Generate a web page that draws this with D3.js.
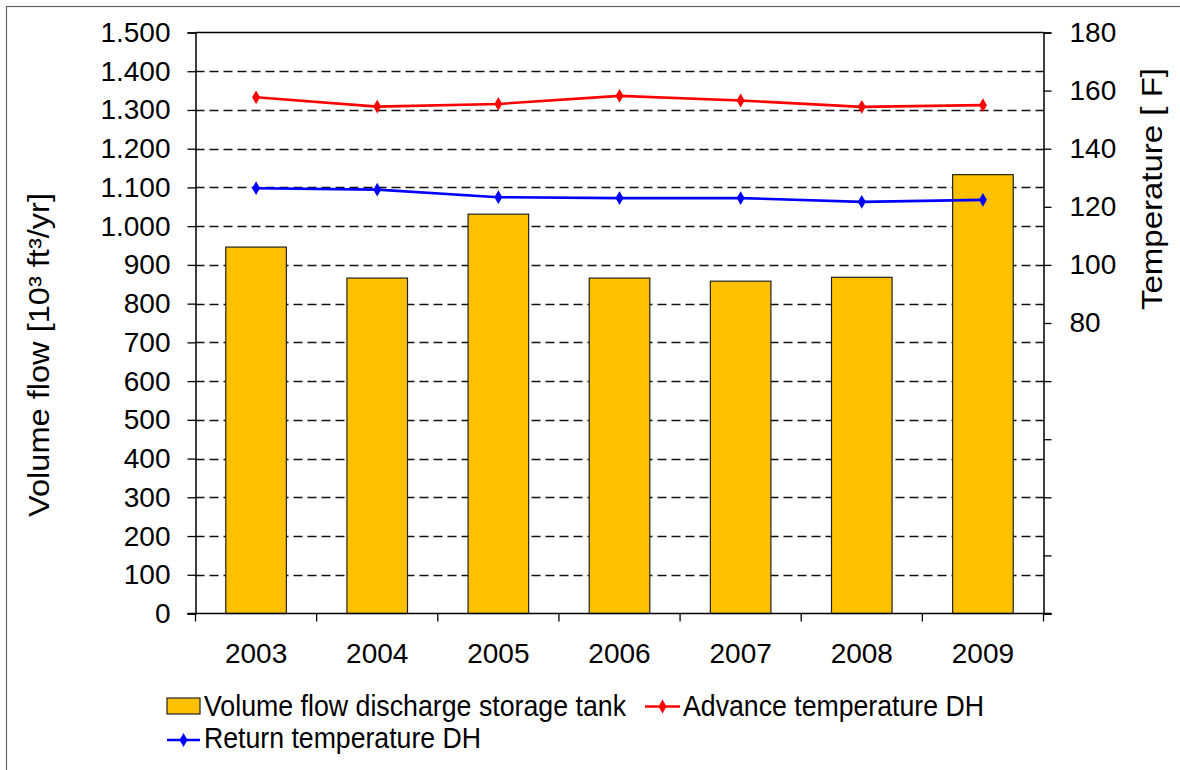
<!DOCTYPE html>
<html>
<head>
<meta charset="utf-8">
<script src="https://cdn.jsdelivr.net/npm/d3@7"></script>
<style>
  html, body { margin: 0; padding: 0; background: #fff; }
  svg { display: block; font-family: "Liberation Sans", Arial, sans-serif; }
</style>
</head>
<body>
<svg id="chart" width="1180" height="770"></svg>
<script>
// ---- data ----
const years = ["2003", "2004", "2005", "2006", "2007", "2008", "2009"];
const volumeFlow = [946, 866, 1031, 866, 858, 868, 1133];
const advanceTemp = [157.7, 154.5, 155.4, 158.2, 156.6, 154.4, 155.0];
const returnTemp = [126.4, 125.9, 123.3, 123.0, 123.0, 121.7, 122.4];
const leftTicks = [0,100,200,300,400,500,600,700,800,900,1000,1100,1200,1300,1400,1500];
const rightTicks = [-20,0,20,40,60,80,100,120,140,160,180];
const rightLabelTicks = [80,100,120,140,160,180];
const seriesNames = ["Volume flow discharge storage tank", "Advance temperature DH", "Return temperature DH"];

// ---- layout ----
const L = 195.5, R = 1043.5, T = 32.5, B = 613.5;
const svg = d3.select("#chart");
const fontTick = 28;

const x = d3.scaleBand().domain(years).range([L, R]).paddingInner(0.5).paddingOuter(0.25);
const yL = d3.scaleLinear().domain([0, 1500]).range([B, T]);
const yR = d3.scaleLinear().domain([-20, 180]).range([B, T]);

const de = d3.formatLocale({decimal: ",", thousands: ".", grouping: [3], currency: ["", "€"]});
const fmtL = de.format(",");

// outer border
svg.append("rect").attr("x", 6.5).attr("y", 6.5).attr("width", 1200).attr("height", 800)
  .attr("fill", "none").attr("stroke", "#666").attr("stroke-width", 1.2);

// gridlines (dashed)
svg.append("g").selectAll("line").data(leftTicks.filter(d => d > 0 && d < 1500)).join("line")
  .attr("x1", L).attr("x2", R)
  .attr("y1", d => Math.round(yL(d)) + 0.5).attr("y2", d => Math.round(yL(d)) + 0.5)
  .attr("stroke", "#111").attr("stroke-width", 1.3).attr("stroke-dasharray", "9,5");

// top border of plot
svg.append("line").attr("x1", L).attr("x2", R).attr("y1", T).attr("y2", T)
  .attr("stroke", "#000").attr("stroke-width", 1.3);

// bars
svg.append("g").selectAll("rect").data(years).join("rect")
  .attr("x", d => x(d))
  .attr("y", (d, i) => yL(volumeFlow[i]))
  .attr("width", x.bandwidth())
  .attr("height", (d, i) => B - yL(volumeFlow[i]))
  .attr("fill", "#FFC000").attr("stroke", "#222").attr("stroke-width", 1.2);

// left axis
const gL = svg.append("g").attr("transform", `translate(${L},0)`)
  .call(d3.axisLeft(yL).tickValues(leftTicks).tickSize(8).tickPadding(17).tickFormat(fmtL));
gL.select(".domain").attr("stroke", "#000").attr("stroke-width", 1.5);
gL.selectAll(".tick line").attr("stroke", "#000").attr("stroke-width", 1.3);
gL.selectAll(".tick text").attr("font-size", fontTick).attr("font-family", "Liberation Sans, Arial, sans-serif").attr("fill", "#000");

// right axis
const gR = svg.append("g").attr("transform", `translate(${R},0)`)
  .call(d3.axisRight(yR).tickValues(rightTicks).tickSize(8).tickPadding(18)
    .tickFormat(d => rightLabelTicks.includes(d) ? String(d) : ""));
gR.select(".domain").attr("stroke", "#000").attr("stroke-width", 1.5);
gR.selectAll(".tick line").attr("stroke", "#000").attr("stroke-width", 1.3);
gR.selectAll(".tick text").attr("font-size", fontTick).attr("font-family", "Liberation Sans, Arial, sans-serif").attr("fill", "#000");

// bottom axis: line, boundary ticks, labels
svg.append("line").attr("x1", L - 8).attr("x2", R + 8).attr("y1", B).attr("y2", B)
  .attr("stroke", "#000").attr("stroke-width", 1.5);
const bounds = years.map(d => x(d) + x.bandwidth() / 2 - x.step() / 2).concat([R]);
svg.append("g").selectAll("line").data(bounds).join("line")
  .attr("x1", d => d).attr("x2", d => d).attr("y1", B).attr("y2", B + 8)
  .attr("stroke", "#000").attr("stroke-width", 1.3);
const gB = svg.append("g").attr("transform", `translate(0,${B})`)
  .call(d3.axisBottom(x).tickSize(0).tickPadding(30));
gB.select(".domain").remove();
gB.selectAll(".tick text").attr("font-size", fontTick).attr("font-family", "Liberation Sans, Arial, sans-serif").attr("fill", "#000");

// lines
const diamond = d3.symbol().type(d3.symbolDiamond).size(55);
function drawSeries(vals, color) {
  const line = d3.line().x((d, i) => x(years[i]) + x.bandwidth() / 2).y(d => yR(d));
  svg.append("path").datum(vals).attr("d", line).attr("fill", "none")
    .attr("stroke", color).attr("stroke-width", 2.6);
  svg.append("g").selectAll("path").data(vals).join("path")
    .attr("transform", (d, i) => `translate(${x(years[i]) + x.bandwidth() / 2},${yR(d)})`)
    .attr("d", diamond).attr("fill", color);
}
drawSeries(advanceTemp, "#FF0000");
drawSeries(returnTemp, "#0000FF");

// axis titles
svg.append("text").attr("transform", "translate(49,355) rotate(-90)")
  .attr("text-anchor", "middle").attr("font-size", 29)
  .attr("textLength", 324).attr("lengthAdjust", "spacingAndGlyphs")
  .text("Volume flow [10³ ft³/yr]");
svg.append("text").attr("transform", "translate(1162,189) rotate(-90)")
  .attr("text-anchor", "middle").attr("font-size", 29)
  .attr("textLength", 242).attr("lengthAdjust", "spacingAndGlyphs")
  .text("Temperature [ F]");

// legend
const lg = svg.append("g");
lg.append("rect").attr("x", 167).attr("y", 698).attr("width", 33).attr("height", 16)
  .attr("fill", "#FFC000").attr("stroke", "#222").attr("stroke-width", 1.2);
lg.append("text").attr("x", 204).attr("y", 716).attr("font-size", 29)
  .attr("textLength", 422).attr("lengthAdjust", "spacingAndGlyphs").text(seriesNames[0]);

lg.append("line").attr("x1", 645).attr("x2", 680).attr("y1", 706.5).attr("y2", 706.5)
  .attr("stroke", "#FF0000").attr("stroke-width", 2.6);
lg.append("path").attr("transform", "translate(662.5,706.5)").attr("d", diamond).attr("fill", "#FF0000");
lg.append("text").attr("x", 683).attr("y", 716).attr("font-size", 29)
  .attr("textLength", 301).attr("lengthAdjust", "spacingAndGlyphs").text(seriesNames[1]);

lg.append("line").attr("x1", 167).attr("x2", 200).attr("y1", 740).attr("y2", 740)
  .attr("stroke", "#0000FF").attr("stroke-width", 2.6);
lg.append("path").attr("transform", "translate(183.5,740)").attr("d", diamond).attr("fill", "#0000FF");
lg.append("text").attr("x", 204).attr("y", 748).attr("font-size", 29)
  .attr("textLength", 277).attr("lengthAdjust", "spacingAndGlyphs").text(seriesNames[2]);
</script>
</body>
</html>
